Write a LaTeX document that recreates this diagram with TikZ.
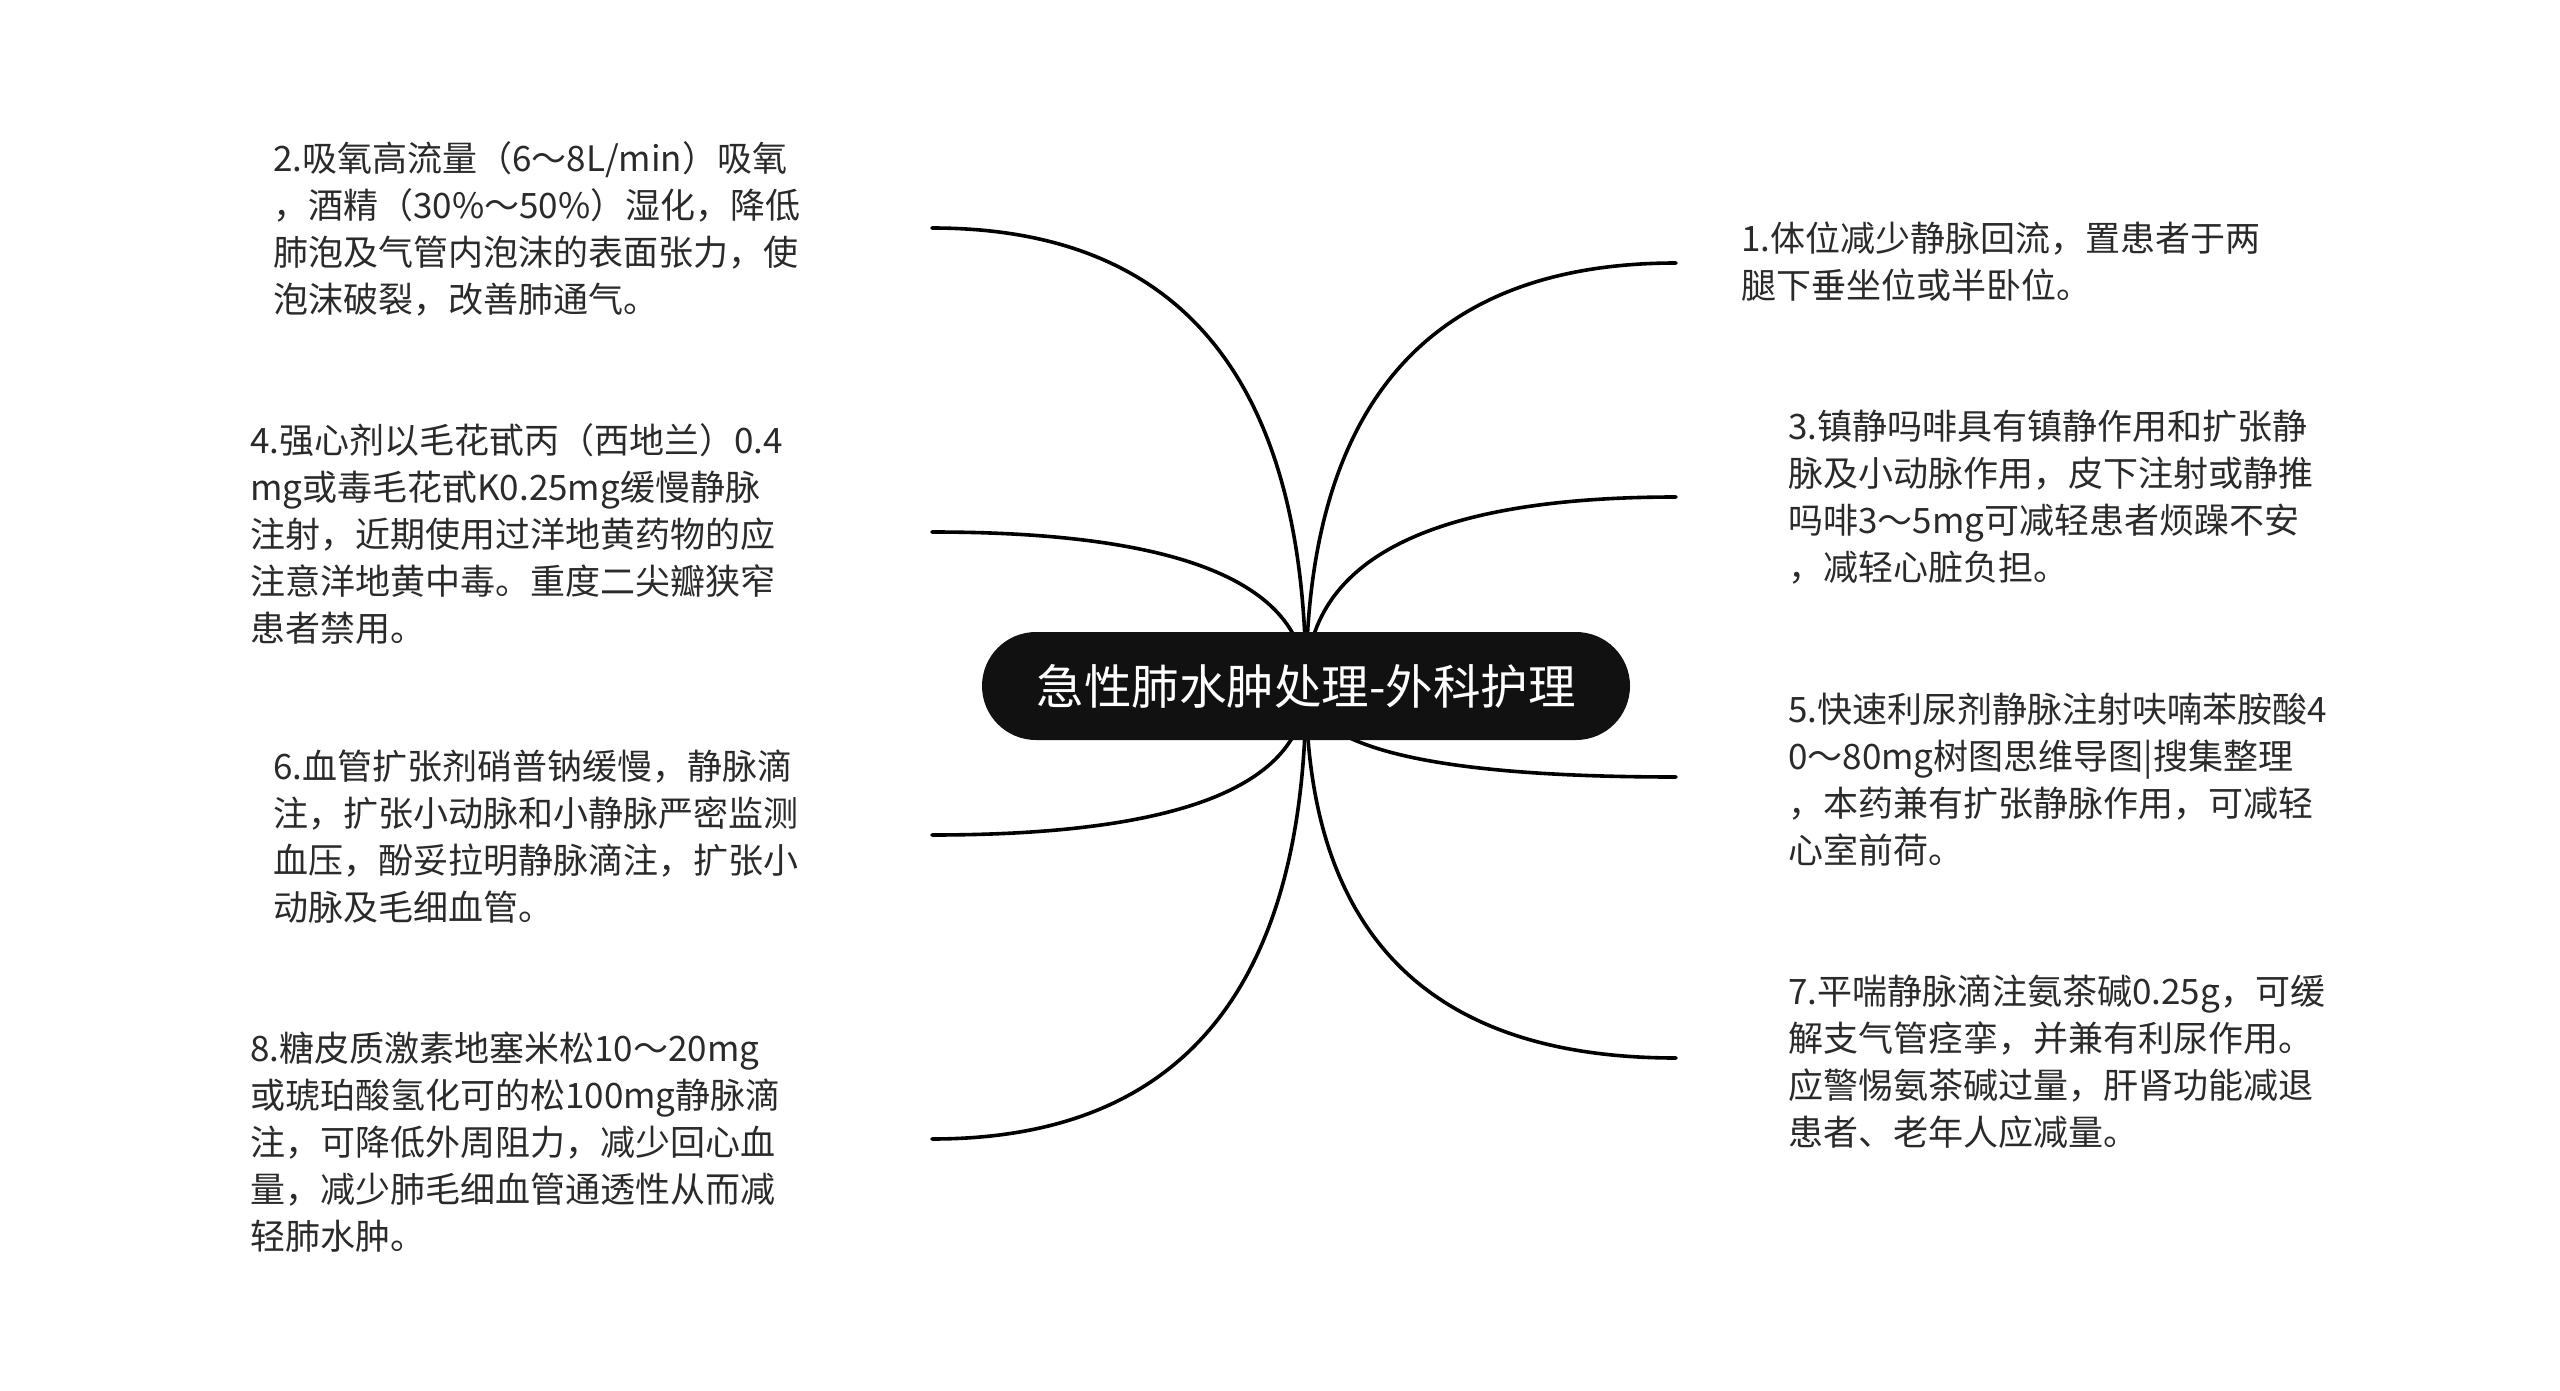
\documentclass[tikz,border=0pt]{standalone}
\usepackage{fontspec}
\setmainfont{Noto Sans CJK SC}
\usetikzlibrary{calc,backgrounds}
\definecolor{rootfill}{HTML}{111111}
\definecolor{leaftext}{HTML}{2A2A2A}
\tikzset{
  leaf/.style={anchor=north west, inner sep=0pt, align=left, text=leaftext,
    font=\fontsize{35}{47}\selectfont},
  root/.style={rectangle, rounded corners=54pt, fill=rootfill, text=white,
    minimum width=648pt, minimum height=108pt, inner sep=0pt,
    font=\fontsize{47.5}{50}\selectfont},
  branch/.style={line width=3.6pt, draw=black, line cap=round},
}
\begin{document}
\begin{tikzpicture}[x=1pt,y=-1pt]
\useasboundingbox (0,0) rectangle (2560,1391);

\node[root] (root) at (1306,686) {急性肺水肿处理-外科护理};

% free ends of the branches
\coordinate (e1) at (1676,263);
\coordinate (e3) at (1676,497);
\coordinate (e5) at (1676,777);
\coordinate (e7) at (1676,1058);
\coordinate (e2) at (932,228);
\coordinate (e4) at (932,532);
\coordinate (e6) at (932,835);
\coordinate (e8) at (932,1139);

\begin{scope}[on background layer]
  \fill[white] (0,0) rectangle (2560,1391);
  \foreach \e in {e1,e2,e3,e4,e5,e6,e7,e8}{
    \draw[branch] let \p1=(root.center), \p2=(\e) in
      (root.center) .. controls (\x1,{\y1+0.75*(\y2-(\y1))})
                       and ({\x1+0.42*(\x2-(\x1))},\y2) .. (\e);
  }
\end{scope}

\node[leaf] (t1) at (1741,222) {1.体位减少静脉回流，置患者于两\\腿下垂坐位或半卧位。};
\node[leaf] (t3) at (1788,410) {3.镇静吗啡具有镇静作用和扩张静\\脉及小动脉作用，皮下注射或静推\\吗啡3～5mg可减轻患者烦躁不安\\，减轻心脏负担。};
\node[leaf] (t5) at (1788,693) {5.快速利尿剂静脉注射呋喃苯胺酸4\\0～80mg树图思维导图|搜集整理\\，本药兼有扩张静脉作用，可减轻\\心室前荷。};
\node[leaf] (t7) at (1788,975) {7.平喘静脉滴注氨茶碱0.25g，可缓\\解支气管痉挛，并兼有利尿作用。\\应警惕氨茶碱过量，肝肾功能减退\\患者、老年人应减量。};

\node[leaf] (t2) at (273,141) {2.吸氧高流量（6～8L/min）吸氧\\，酒精（30\%～50\%）湿化，降低\\肺泡及气管内泡沫的表面张力，使\\泡沫破裂，改善肺通气。};
\node[leaf] (t4) at (250,423) {4.强心剂以毛花甙丙（西地兰）0.4\\mg或毒毛花甙K0.25mg缓慢静脉\\注射，近期使用过洋地黄药物的应\\注意洋地黄中毒。重度二尖瓣狭窄\\患者禁用。};
\node[leaf] (t6) at (273,750) {6.血管扩张剂硝普钠缓慢，静脉滴\\注，扩张小动脉和小静脉严密监测\\血压，酚妥拉明静脉滴注，扩张小\\动脉及毛细血管。};
\node[leaf] (t8) at (250,1032) {8.糖皮质激素地塞米松10～20mg\\或琥珀酸氢化可的松100mg静脉滴\\注，可降低外周阻力，减少回心血\\量，减少肺毛细血管通透性从而减\\轻肺水肿。};
\end{tikzpicture}
\end{document}
